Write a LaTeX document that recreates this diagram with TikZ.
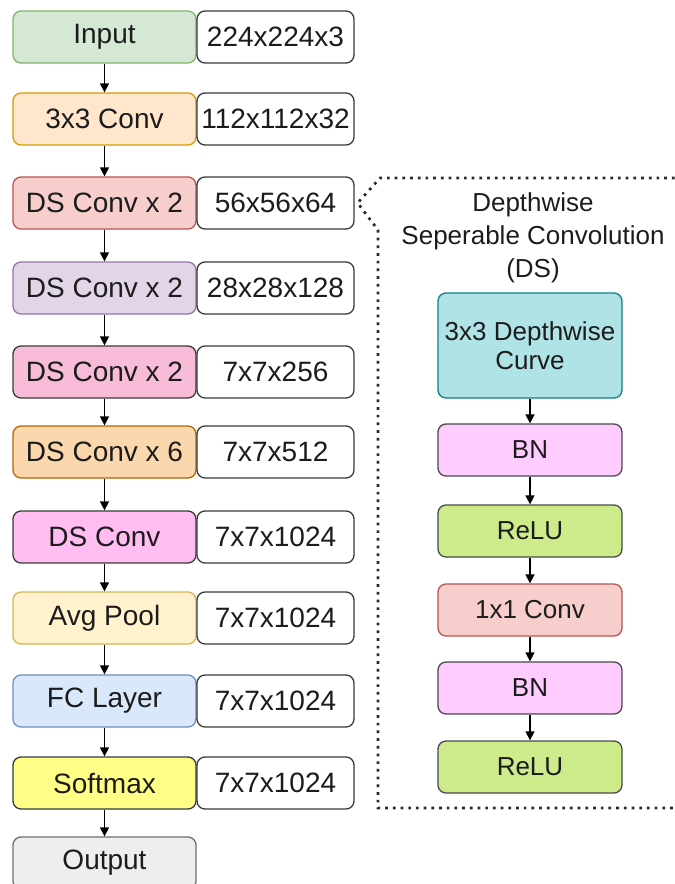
\documentclass[tikz,border=0pt]{standalone}
\usepackage{fontspec}
\setmainfont{Liberation Sans}
\usetikzlibrary{arrows.meta,calc}
\definecolor{txt}{HTML}{1C1C1C}
\definecolor{valb}{HTML}{3A3A3A}
\definecolor{inF}{HTML}{D5E8D4}\definecolor{inD}{HTML}{82B366}
\definecolor{cvF}{HTML}{FFE6CC}\definecolor{cvD}{HTML}{D79B00}
\definecolor{rdF}{HTML}{F8CECC}\definecolor{rdD}{HTML}{B85450}
\definecolor{puF}{HTML}{E1D5E7}\definecolor{puD}{HTML}{9673A6}
\definecolor{pkF}{HTML}{F8BBD8}\definecolor{pkD}{HTML}{3A3A3A}
\definecolor{orF}{HTML}{FAD7AC}\definecolor{orD}{HTML}{B46504}
\definecolor{mgF}{HTML}{FFBDF2}\definecolor{mgD}{HTML}{3A3A3A}
\definecolor{yeF}{HTML}{FFF2CC}\definecolor{yeD}{HTML}{D6B656}
\definecolor{blF}{HTML}{DAE8FC}\definecolor{blD}{HTML}{6C8EBF}
\definecolor{sfF}{HTML}{FFFF88}\definecolor{sfD}{HTML}{36393D}
\definecolor{grF}{HTML}{EEEEEE}\definecolor{grD}{HTML}{6E6E6E}
\definecolor{tlF}{HTML}{B0E3E6}\definecolor{tlD}{HTML}{0E8088}
\definecolor{bnF}{HTML}{FFCCFF}\definecolor{bnD}{HTML}{4A4A4A}
\definecolor{reF}{HTML}{CDEB8B}\definecolor{reD}{HTML}{4A4A4A}
\definecolor{dotc}{HTML}{2A2A2A}
\begin{document}
\begin{tikzpicture}[x=1pt,y=-1pt,
  blk/.style={draw, rounded corners=8pt, line width=1.3pt, minimum width=183pt,
    minimum height=52pt, inner sep=0pt, text=txt, font=\fontsize{28}{32}\selectfont},
  val/.style={blk, fill=white, draw=valb, minimum width=157pt},
  rbox/.style={blk, minimum width=184pt, font=\fontsize{26}{30}\selectfont},
  arr/.style={-{Triangle[length=9pt,width=9pt]}, line width=1.4pt, black},
  dotline/.style={draw=dotc, line width=2.7pt, dash pattern=on 2.7pt off 5pt}]
\useasboundingbox (0,0) rectangle (675,884);
\clip (0,0) rectangle (675,884);

% left column
\node[blk, fill=inF, draw=inD] (in) at (104.5,37) {Input};
\node[val] (v1) at (275.5,37) {224x224x3};
\node[blk, fill=cvF, draw=cvD] (c1) at (104.5,119) {3x3 Conv};
\node[val] (v2) at (275.5,119) {112x112x32};
\node[blk, fill=rdF, draw=rdD] (d1) at (104.5,203) {DS Conv x 2};
\node[val] (v3) at (275.5,203) {56x56x64};
\node[blk, fill=puF, draw=puD] (d2) at (104.5,288) {DS Conv x 2};
\node[val] (v4) at (275.5,288) {28x28x128};
\node[blk, fill=pkF, draw=pkD] (d3) at (104.5,372) {DS Conv x 2};
\node[val] (v5) at (275.5,372) {7x7x256};
\node[blk, fill=orF, draw=orD] (d4) at (104.5,452) {DS Conv x 6};
\node[val] (v6) at (275.5,452) {7x7x512};
\node[blk, fill=mgF, draw=mgD] (d5) at (104.5,537) {DS Conv};
\node[val] (v7) at (275.5,537) {7x7x1024};
\node[blk, fill=yeF, draw=yeD] (ap) at (104.5,618) {Avg Pool};
\node[val] (v8) at (275.5,618) {7x7x1024};
\node[blk, fill=blF, draw=blD] (fc) at (104.5,701) {FC Layer};
\node[val] (v9) at (275.5,701) {7x7x1024};
\node[blk, fill=sfF, draw=sfD] (sm) at (104.5,783) {Softmax};
\node[val] (v10) at (275.5,783) {7x7x1024};
\node[blk, fill=grF, draw=grD] (out) at (104.5,863) {Output};

\foreach \a/\b in {in/c1,c1/d1,d1/d2,d2/d3,d3/d4,d4/d5,d5/ap,ap/fc,fc/sm,sm/out}
  \draw[arr] (\a.south) -- (\b.north);

% dotted callout
\coordinate (tip) at ($(v3.east)+(3,0)$);
\coordinate (tl) at (380,178);
\coordinate (bl) at (378,230);
\coordinate (trr) at (690,178);
\coordinate (brr) at (690,808);
\coordinate (blb) at (378,808);
\draw[dotline] (trr) -- (tl) -- (tip) -- (bl) -- (blb) -- (brr);

\node[align=center, text=txt, font=\fontsize{26}{33}\selectfont] (title) at (533,238)
  {Depthwise\\Seperable Convolution\\(DS)};

% right column
\node[rbox, fill=tlF, draw=tlD, minimum height=105pt, align=center] (dw) at (530,345.5)
  {3x3 Depthwise\\[-1pt]Curve};
\node[rbox, fill=bnF, draw=bnD] (bn1) at (530,450) {BN};
\node[rbox, fill=reF, draw=reD] (re1) at (530,531) {ReLU};
\node[rbox, fill=rdF, draw=rdD] (pw) at (530,610) {1x1 Conv};
\node[rbox, fill=bnF, draw=bnD] (bn2) at (530,688) {BN};
\node[rbox, fill=reF, draw=reD] (re2) at (530,767) {ReLU};

\foreach \a/\b in {dw/bn1,bn1/re1,re1/pw,pw/bn2,bn2/re2}
  \draw[arr] (\a.south) -- (\b.north);
\end{tikzpicture}
\end{document}
